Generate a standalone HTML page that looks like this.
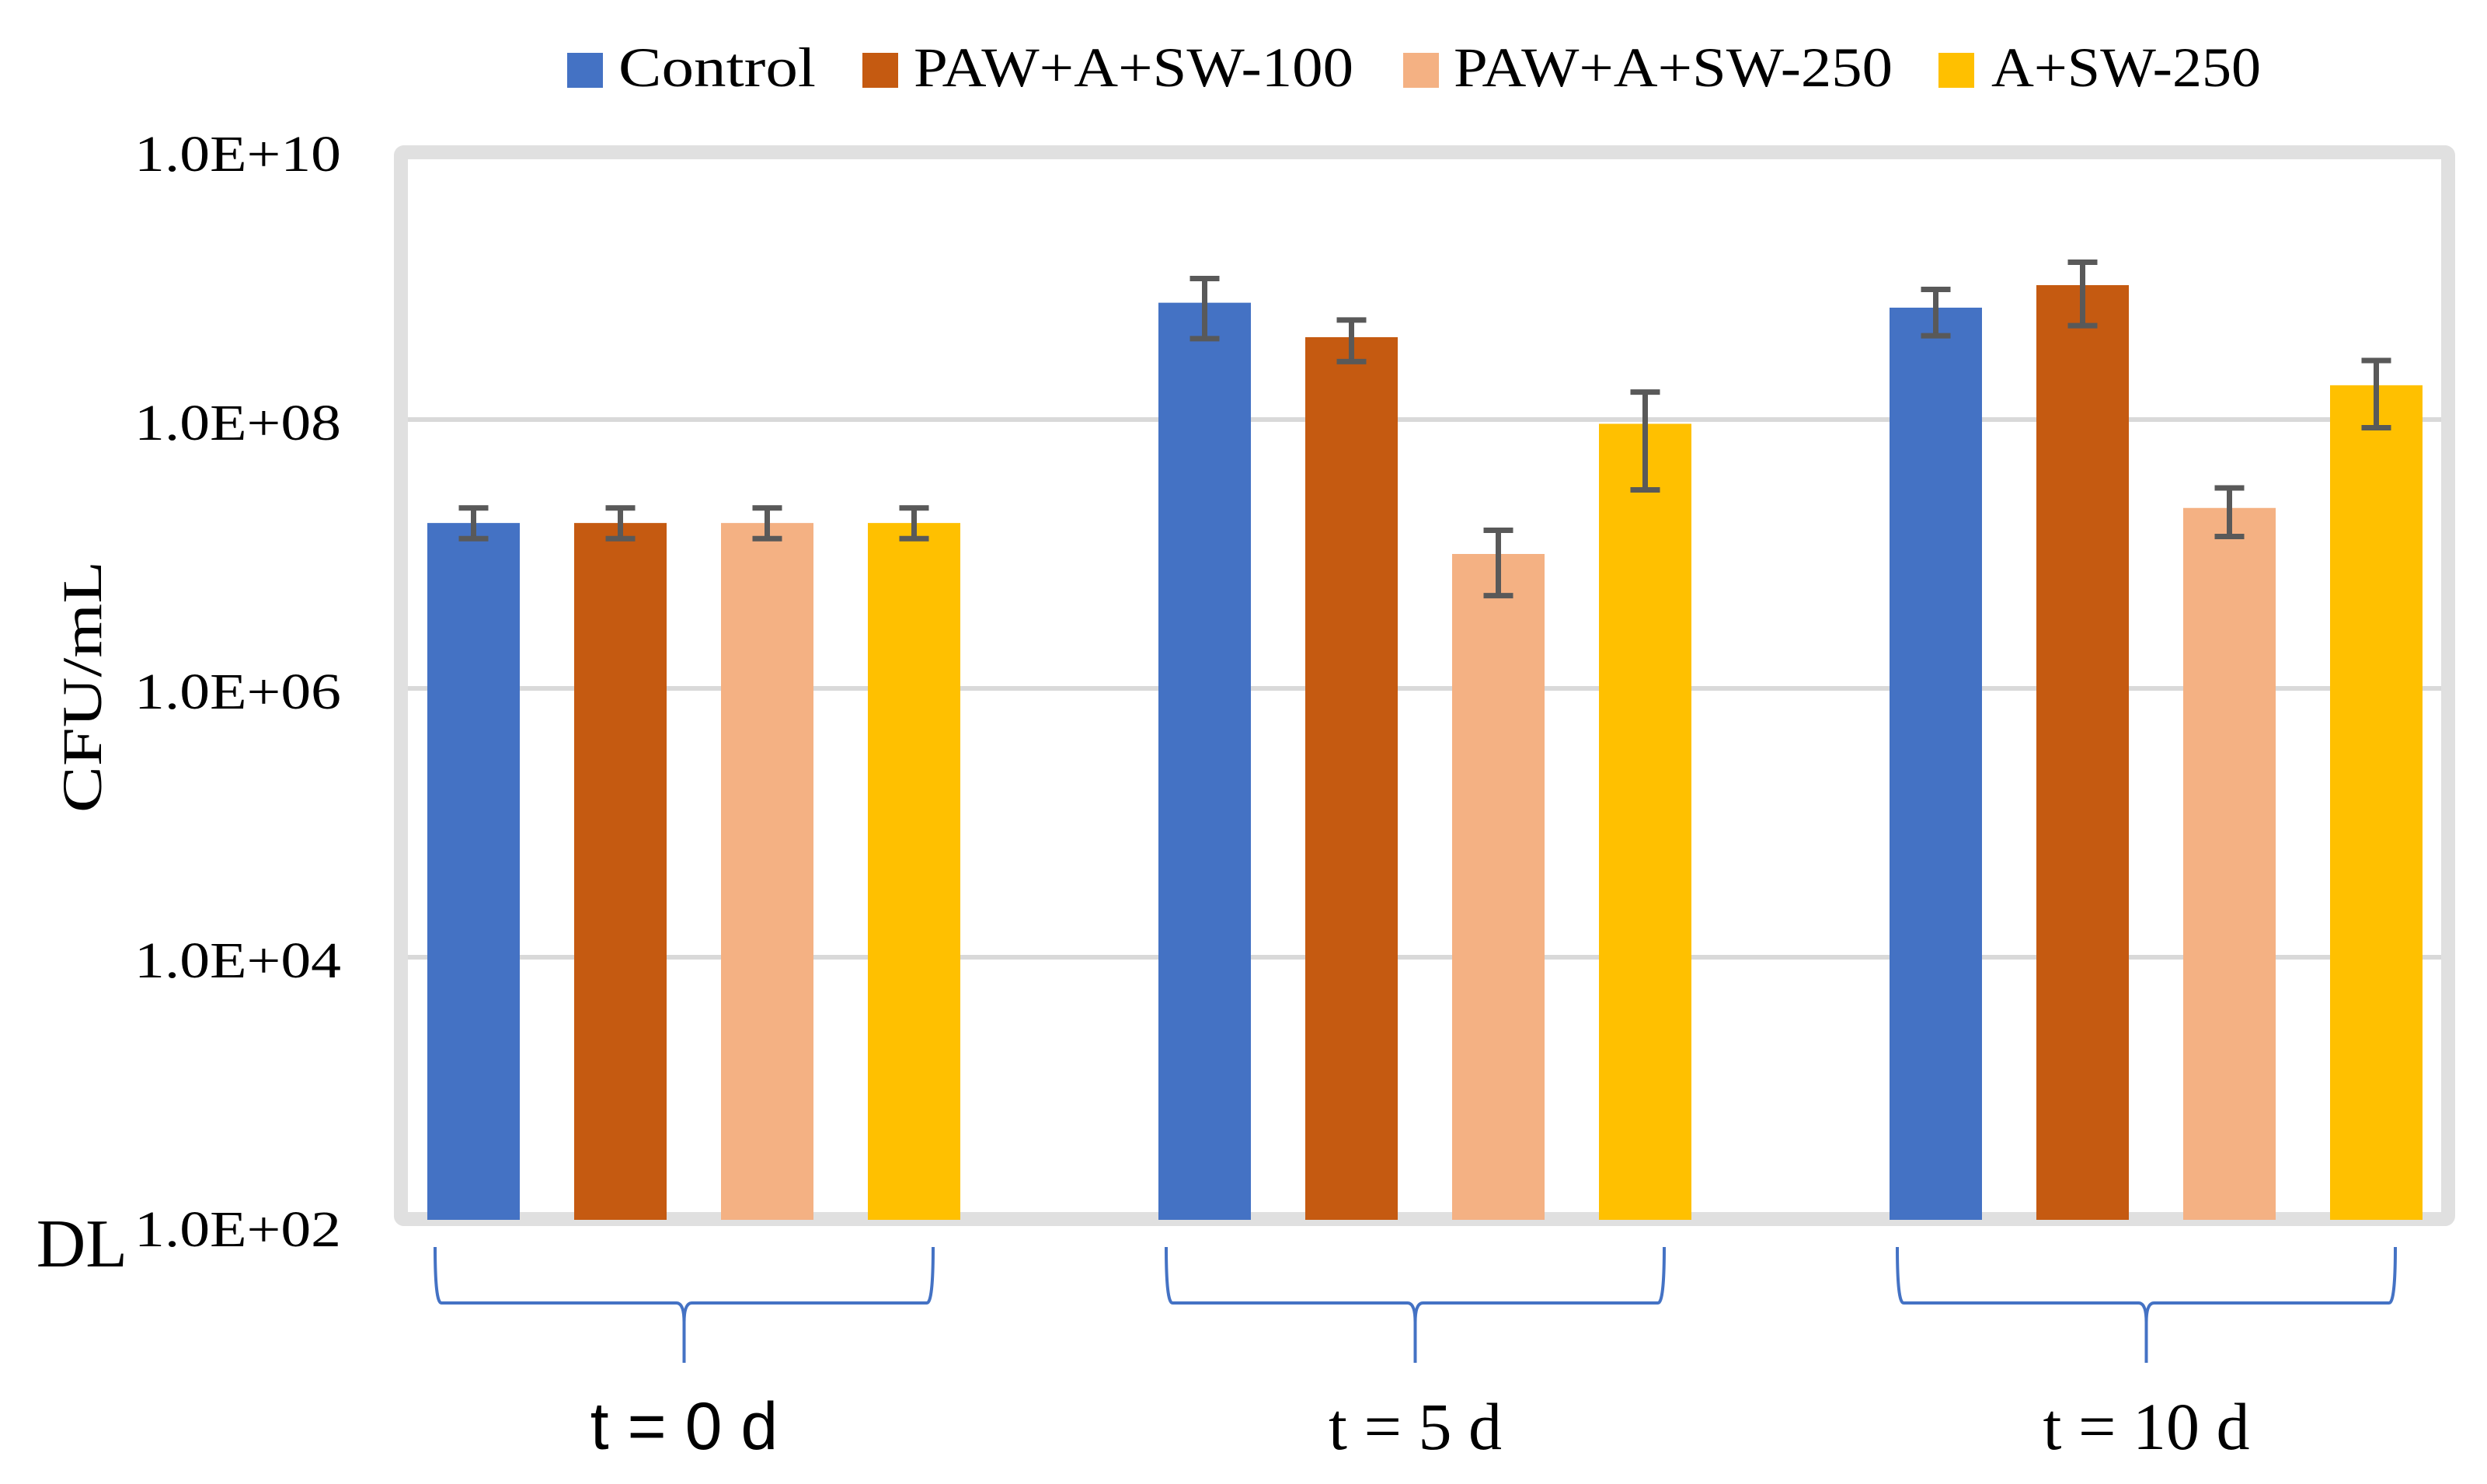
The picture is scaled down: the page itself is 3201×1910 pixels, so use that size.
<!DOCTYPE html>
<html><head><meta charset="utf-8"><style>
html,body{margin:0;padding:0;background:#fff;}
svg{display:block;}
</style></head><body>
<svg id="chart" width="3201" height="1910" viewBox="0 0 3201 1910" xmlns="http://www.w3.org/2000/svg">
<rect x="0" y="0" width="3201" height="1910" fill="#fff"/>
<g id="legend">
<rect x="730" y="68" width="46" height="45" fill="#4472C4"/>
<text x="796" y="111" font-family="Liberation Serif, serif" font-size="72" textLength="254" lengthAdjust="spacingAndGlyphs">Control</text>
<rect x="1110" y="68" width="46" height="45" fill="#C55A11"/>
<text x="1176" y="111" font-family="Liberation Serif, serif" font-size="72" textLength="566" lengthAdjust="spacingAndGlyphs">PAW+A+SW-100</text>
<rect x="1806" y="68" width="46" height="45" fill="#F4B183"/>
<text x="1871" y="111" font-family="Liberation Serif, serif" font-size="72" textLength="565" lengthAdjust="spacingAndGlyphs">PAW+A+SW-250</text>
<rect x="2495" y="68" width="46" height="45" fill="#FFC000"/>
<text x="2563" y="111" font-family="Liberation Serif, serif" font-size="72" textLength="347" lengthAdjust="spacingAndGlyphs">A+SW-250</text>
</g>
<g id="grid"></g>
<g id="bars"></g>
<g id="errs"></g>
<g id="labels"></g>
<text x="164" y="1630" text-anchor="end" font-family="Liberation Serif, serif" font-size="88">DL</text>
<text transform="translate(130,884) rotate(-90)" text-anchor="middle" font-family="Liberation Serif, serif" font-size="72" textLength="324" lengthAdjust="spacingAndGlyphs">CFU/mL</text>
</svg>
<script>
const categories = ["t = 0 d", "t = 5 d", "t = 10 d"];
const seriesNames = ["Control", "PAW+A+SW-100", "PAW+A+SW-250", "A+SW-250"];
const controlVals = [1.7e7, 7.4e8, 6.8e8];
const paw100Vals = [1.7e7, 4.1e8, 1.0e9];
const paw250Vals = [1.7e7, 1.0e7, 2.2e7];
const asw250Vals = [1.7e7, 9.3e7, 1.8e8];
const controlHi = [2.2e7, 1.12e9, 9.3e8];
const controlLo = [1.3e7, 4.0e8, 4.2e8];
const paw100Hi = [2.2e7, 5.5e8, 1.48e9];
const paw100Lo = [1.3e7, 2.7e8, 5.0e8];
const paw250Hi = [2.2e7, 1.5e7, 3.1e7];
const paw250Lo = [1.3e7, 4.9e6, 1.35e7];
const asw250Hi = [2.2e7, 1.6e8, 2.75e8];
const asw250Lo = [1.3e7, 3.0e7, 8.7e7];
const yTicks = [1e2, 1e4, 1e6, 1e8, 1e10];
const yTickLabels = ["1.0E+02", "1.0E+04", "1.0E+06", "1.0E+08", "1.0E+10"];

const NS = "http://www.w3.org/2000/svg";
const colors = ["#4472C4", "#C55A11", "#F4B183", "#FFC000"];
const vals = [controlVals, paw100Vals, paw250Vals, asw250Vals];
const his = [controlHi, paw100Hi, paw250Hi, asw250Hi];
const los = [controlLo, paw100Lo, paw250Lo, asw250Lo];
const Y_TOP = 194, Y_BOT = 1578;
function y(v) { return Y_BOT - (Math.log10(v) - 2) / 8 * (Y_BOT - Y_TOP); }
const G0 = 550, GSTEP = 941, BSTEP = 189, BW = 119, BAR_BASE = 1570;
function x(ci, si) { return G0 + ci * GSTEP + si * BSTEP; }
function mk(tag, attrs, parent) {
  const e = document.createElementNS(NS, tag);
  for (const k in attrs) e.setAttribute(k, attrs[k]);
  parent.appendChild(e);
  return e;
}
const grid = document.getElementById("grid");
yTicks.forEach((t, i) => {
  if (i > 0 && i < yTicks.length - 1) {
    const l = mk("line", {x1: 522, x2: 3146, y1: y(t), y2: y(t), stroke: "#d9d9d9", "stroke-width": 6}, grid);
    
    
  }
  const tx = mk("text", {x: 439, y: y(t) + 26, "text-anchor": "end", "font-family": "Liberation Serif, serif", "font-size": 66, textLength: 266, lengthAdjust: "spacingAndGlyphs"}, grid);
  tx.textContent = yTickLabels[i];
  
  
});
const frame = mk("rect", {x: 516, y: 196, width: 2635, height: 1373, fill: "none", stroke: "#e0e0e0", "stroke-width": 18, rx: 4}, grid);



const bars = document.getElementById("bars"), errs = document.getElementById("errs");
categories.forEach((c, ci) => {
  seriesNames.forEach((s, si) => {
    const top = y(vals[si][ci]);
    const b = mk("rect", {x: x(ci, si), y: top, width: BW, height: BAR_BASE - top, fill: colors[si]}, bars);
    
    
    const cx = x(ci, si) + BW / 2, yh = y(his[si][ci]), yl = y(los[si][ci]);
    const g = mk("g", {stroke: "#595959", "stroke-width": 7}, errs);
    
    
    mk("line", {x1: cx, x2: cx, y1: yh, y2: yl}, g);
    mk("line", {x1: cx - 19, x2: cx + 19, y1: yh, y2: yh}, g);
    mk("line", {x1: cx - 19, x2: cx + 19, y1: yl, y2: yl}, g);
  });
  const L = x(ci, 0) + 10, R = x(ci, 3) + BW - 35, M = (L + R) / 2, hy = 1677;
  const p = mk("path", {d: `M${L},1605 Q${L},${hy} ${L+8},${hy} L${M-10},${hy} Q${M},${hy} ${M},${hy+25} L${M},1754 M${M},${hy+25} Q${M},${hy} ${M+10},${hy} L${R-8},${hy} Q${R},${hy} ${R},1605`, fill: "none", stroke: "#4472C4", "stroke-width": 4}, bars);
  
  
  const t = mk("text", {x: M, y: 1865, "text-anchor": "middle", "font-family": ci === 0 ? "Liberation Sans, sans-serif" : "Liberation Serif, serif", "font-size": 86}, document.getElementById("labels"));
  t.textContent = c;
  
  
});
</script>
</body></html>
